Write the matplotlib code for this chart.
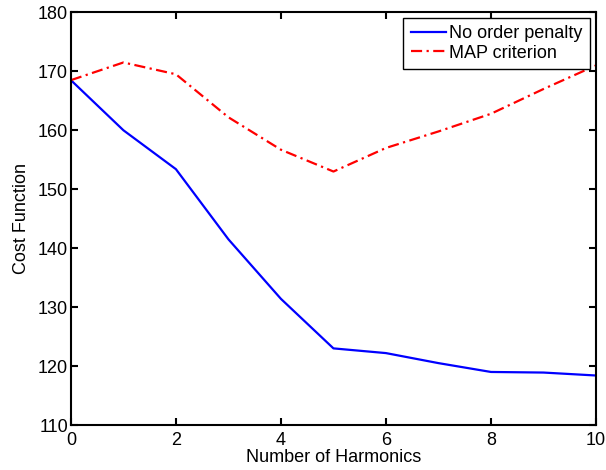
import matplotlib
matplotlib.use("Agg")
import matplotlib.pyplot as plt

harmonics = [0, 1, 2, 3, 4, 5, 6, 7, 8, 9, 10]
no_order_penalty = [168.5, 160.0, 153.4, 141.5, 131.4, 123.0, 122.2, 120.5, 119.0, 118.9, 118.4]
map_criterion = [168.5, 171.5, 169.5, 162.2, 156.7, 153.0, 157.0, 159.8, 162.8, 167.0, 171.0]

plt.rcParams['font.family'] = ['Liberation Sans', 'DejaVu Sans']

fig = plt.figure(figsize=(6.06, 4.70), dpi=100)
ax = fig.add_axes([0.117, 0.0957, 0.8665, 0.878])
ax.plot(harmonics, no_order_penalty, color='#0000ff', lw=1.6, label='No order penalty')
ax.plot(harmonics, map_criterion, color='#ff0000', lw=1.6, linestyle=(0, (5, 2, 1, 2)),
        label='MAP criterion')
ax.set_xlim(0, 10)
ax.set_ylim(110, 180)
ax.set_xticks([0, 2, 4, 6, 8, 10])
ax.set_yticks(range(110, 181, 10))
ax.tick_params(direction='in', top=True, right=True, labelsize=13, length=5, width=1.5)
ax.tick_params(axis='x', pad=5)
ax.tick_params(axis='y', pad=2)
for s in ax.spines.values():
    s.set_linewidth(1.5)
ax.set_xlabel('Number of Harmonics', fontsize=13, labelpad=0)
ax.set_ylabel('Cost Function', fontsize=13, labelpad=6)
leg = ax.legend(loc='upper right', fontsize=13, fancybox=False, framealpha=1,
                edgecolor='black', bbox_to_anchor=(0.9885, 0.987), borderaxespad=0,
                handlelength=1.95, borderpad=0.4, labelspacing=0.15, handletextpad=0.2)
leg.get_frame().set_linewidth(1.0)
fig.savefig('out.png', dpi=100)
